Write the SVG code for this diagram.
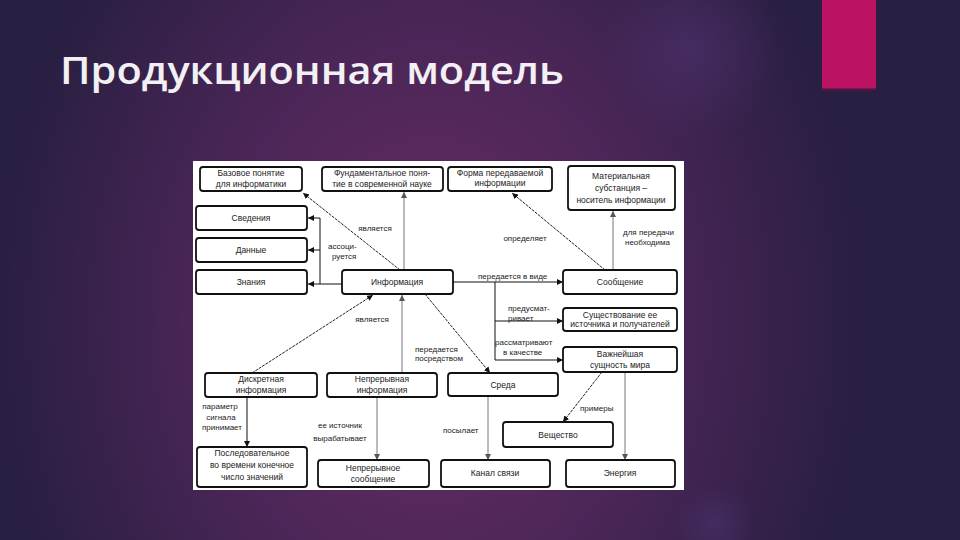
<svg xmlns="http://www.w3.org/2000/svg" width="960" height="540" viewBox="0 0 960 540">
  <defs>
    <radialGradient id="glow" cx="430" cy="320" r="480" gradientUnits="userSpaceOnUse" gradientTransform="translate(430 320) scale(0.9 1.15) translate(-430 -320)">
      <stop offset="0" stop-color="#6a2c62"/>
      <stop offset="0.5" stop-color="#4c2658"/>
      <stop offset="1" stop-color="#291f42"/>
    </radialGradient>
    <radialGradient id="spot" cx="690" cy="50" r="90" gradientUnits="userSpaceOnUse">
      <stop offset="0" stop-color="#4b2f6a" stop-opacity="0.7"/>
      <stop offset="1" stop-color="#4b2f6a" stop-opacity="0"/>
    </radialGradient>
    <radialGradient id="spot2" cx="715" cy="525" r="40" gradientUnits="userSpaceOnUse">
      <stop offset="0" stop-color="#4a3270" stop-opacity="0.6"/>
      <stop offset="1" stop-color="#4a3270" stop-opacity="0"/>
    </radialGradient>
    <marker id="ah" viewBox="0 0 10 10" refX="10" refY="5" markerWidth="6" markerHeight="6" orient="auto" markerUnits="userSpaceOnUse">
      <path d="M0,0 L10,5 L0,10 z" fill="#111"/>
    </marker>
    <marker id="ahg" viewBox="0 0 10 10" refX="10" refY="5" markerWidth="6" markerHeight="6" orient="auto" markerUnits="userSpaceOnUse">
      <path d="M0,0 L10,5 L0,10 z" fill="#555"/>
    </marker>
  </defs>
  <style>
    .box rect { fill: #fff; stroke: #111; stroke-width: 1.8; }
    .box text { font-family: "Liberation Sans", Arial, sans-serif; font-size: 8.5px; fill: #222; text-anchor: middle; }
    .lbl { font-family: "Liberation Sans", Arial, sans-serif; font-size: 8px; fill: #222; }
    .c { text-anchor: middle; }
    .solid { stroke: #111; stroke-width: 1; fill: none; marker-end: url(#ah); }
    .plain { stroke: #111; stroke-width: 1; fill: none; }
    .dash { stroke: #222; stroke-width: 1; stroke-dasharray: 3 1; fill: none; marker-end: url(#ah); }
    .grey { stroke: #777; stroke-width: 1; fill: none; marker-end: url(#ahg); }
  </style>

  <rect x="0" y="0" width="960" height="540" fill="url(#glow)"/>
  <rect x="0" y="0" width="960" height="540" fill="url(#spot)"/>
  <rect x="0" y="0" width="960" height="540" fill="url(#spot2)"/>
  <rect x="822" y="0" width="54" height="89" fill="#bb1264"/>
  <rect x="822" y="88" width="54" height="3" fill="#5a1540" opacity="0.6"/>
  <text x="60" y="84" font-family="'Open Sans', 'DejaVu Sans', sans-serif" font-weight="600" font-size="37" fill="#f2f0f4" textLength="504" lengthAdjust="spacingAndGlyphs">Продукционная модель</text>

  <rect x="193" y="161" width="491" height="329" fill="#ffffff"/>

  <g id="connectors">
    <line class="dash" x1="400" y1="270" x2="303" y2="193"/>
    <line class="grey" x1="404" y1="270" x2="404" y2="192"/>
    <line class="solid" x1="342" y1="284" x2="308" y2="284"/>
    <line class="plain" x1="320" y1="218" x2="320" y2="284"/>
    <line class="solid" x1="320" y1="218" x2="308" y2="218"/>
    <line class="solid" x1="320" y1="250" x2="308" y2="250"/>
    <line class="dash" x1="605" y1="270" x2="512" y2="193"/>
    <line class="grey" x1="613" y1="270" x2="613" y2="211"/>
    <line class="solid" x1="453" y1="282" x2="563" y2="282"/>
    <line class="plain" x1="495" y1="282" x2="495" y2="360"/>
    <line class="solid" x1="495" y1="321" x2="563" y2="321"/>
    <line class="solid" x1="495" y1="360" x2="563" y2="360"/>
    <line class="dash" x1="252" y1="373" x2="373" y2="295"/>
    <line class="grey" x1="402" y1="373" x2="402" y2="295"/>
    <line class="dash" x1="425" y1="294" x2="490" y2="373"/>
    <line class="dash" x1="602" y1="372" x2="563" y2="422"/>
    <line class="grey" x1="625" y1="372" x2="625" y2="460"/>
    <line class="grey" x1="488" y1="396" x2="488" y2="460"/>
    <line class="solid" x1="247" y1="397" x2="247" y2="447"/>
    <line class="grey" x1="377" y1="397" x2="377" y2="460"/>

    <text class="lbl c" x="375" y="231">является</text>
    <text class="lbl" x="328" y="249">ассоци-</text>
    <text class="lbl" x="332" y="259">руется</text>
    <text class="lbl c" x="525" y="241">определяет</text>
    <text class="lbl" x="623" y="235">для передачи</text>
    <text class="lbl" x="625" y="245">необходима</text>
    <text class="lbl" x="478" y="279">передается в виде</text>
    <text class="lbl" x="508" y="311">предусмат-</text>
    <text class="lbl" x="508" y="321">ривает</text>
    <text class="lbl" x="495" y="345">рассматривают</text>
    <text class="lbl" x="503" y="355">в качестве</text>
    <text class="lbl c" x="372" y="322">является</text>
    <text class="lbl" x="415" y="352">передается</text>
    <text class="lbl" x="415" y="361">посредством</text>
    <text class="lbl" x="580" y="411">примеры</text>
    <text class="lbl" x="443" y="433">посылает</text>
    <text class="lbl c" x="220" y="409">параметр</text>
    <text class="lbl c" x="221" y="420">сигнала</text>
    <text class="lbl c" x="222" y="430">принимает</text>
    <text class="lbl c" x="340" y="428">ее источник</text>
    <text class="lbl c" x="340" y="441">вырабатывает</text>
  </g>

  <g id="n-bazovoe" class="box"><rect x="200" y="167" width="102" height="24" rx="3"/><text x="251" y="176">Базовое понятие</text><text x="251" y="187">для информатики</text></g>
  <g id="n-fund" class="box"><rect x="322" y="167" width="121" height="24" rx="3"/><text x="382" y="176">Фундаментальное поня-</text><text x="382" y="187">тие в современной науке</text></g>
  <g id="n-forma" class="box"><rect x="448" y="167" width="104" height="24" rx="3"/><text x="500" y="176">Форма передаваемой</text><text x="500" y="186">информации</text></g>
  <g id="n-mater" class="box"><rect x="568" y="166" width="107" height="44" rx="3"/><text x="621" y="179">Материальная</text><text x="621" y="191">субстанция –</text><text x="621" y="203">носитель информации</text></g>
  <g id="n-sved" class="box"><rect x="196" y="206" width="111" height="24" rx="3"/><text x="251" y="221">Сведения</text></g>
  <g id="n-dannye" class="box"><rect x="196" y="238" width="111" height="24" rx="3"/><text x="251" y="253">Данные</text></g>
  <g id="n-znaniya" class="box"><rect x="196" y="270" width="111" height="24" rx="3"/><text x="251" y="285">Знания</text></g>
  <g id="n-info" class="box"><rect x="342" y="270" width="111" height="24" rx="3"/><text x="397" y="285">Информация</text></g>
  <g id="n-soobsh" class="box"><rect x="563" y="270" width="114" height="24" rx="3"/><text x="620" y="285">Сообщение</text></g>
  <g id="n-sush" class="box"><rect x="563" y="308" width="114" height="23" rx="3"/><text x="620" y="318">Существование ее</text><text x="620" y="327">источника и получателей</text></g>
  <g id="n-vazhn" class="box"><rect x="563" y="347" width="114" height="25" rx="3"/><text x="620" y="357">Важнейшая</text><text x="620" y="368">сущность мира</text></g>
  <g id="n-sreda" class="box"><rect x="448" y="373" width="110" height="23" rx="3"/><text x="503" y="388">Среда</text></g>
  <g id="n-diskr" class="box"><rect x="205" y="373" width="112" height="24" rx="3"/><text x="261" y="382">Дискретная</text><text x="261" y="393">информация</text></g>
  <g id="n-nepr" class="box"><rect x="327" y="373" width="110" height="24" rx="3"/><text x="382" y="382">Непрерывная</text><text x="382" y="393">информация</text></g>
  <g id="n-posl" class="box"><rect x="197" y="447" width="110" height="40" rx="3"/><text x="252" y="456">Последовательное</text><text x="252" y="468">во времени конечное</text><text x="252" y="480">число значений</text></g>
  <g id="n-neprsoob" class="box"><rect x="318" y="460" width="111" height="27" rx="3"/><text x="373" y="471">Непрерывное</text><text x="373" y="482">сообщение</text></g>
  <g id="n-veshch" class="box"><rect x="503" y="422" width="110" height="25" rx="3"/><text x="558" y="438">Вещество</text></g>
  <g id="n-kanal" class="box"><rect x="441" y="460" width="109" height="27" rx="3"/><text x="495" y="476">Канал связи</text></g>
  <g id="n-energ" class="box"><rect x="566" y="460" width="109" height="27" rx="3"/><text x="620" y="476">Энергия</text></g>
</svg>
